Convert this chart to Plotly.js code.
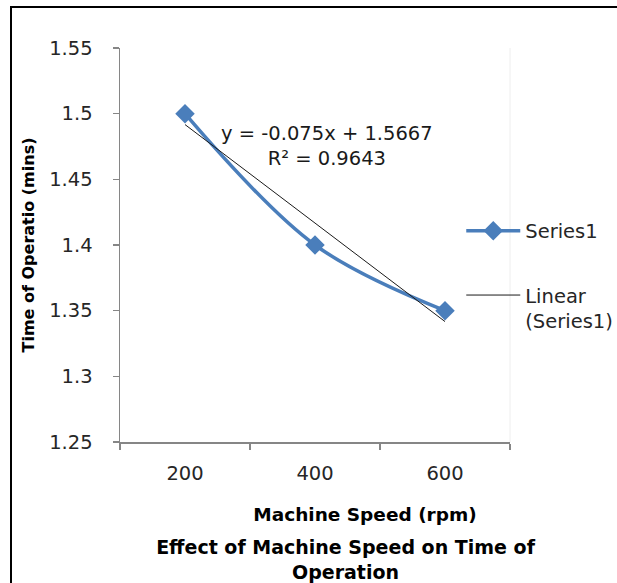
<!DOCTYPE html>
<html>
<head>
<meta charset="utf-8">
<script src="https://cdn.plot.ly/plotly-3.0.1.min.js"></script>
<style>
  html, body { margin: 0; padding: 0; background: #ffffff; overflow: hidden; }
  #frame { position: absolute; left: 10px; top: 6px; width: 800px; height: 800px;
           border-left: 2px solid #000; border-top: 2px solid #000; }
  #chart { position: absolute; left: 0; top: 0; width: 617px; height: 583px; }
</style>
</head>
<body>
<div id="frame"></div>
<div id="chart"></div>
<script>
// ---- data ----
var categories = ['200', '400', '600'];
var timeValues = [1.5, 1.4, 1.35];
var trendSlope = -0.075;
var trendIntercept = 1.5667;
var yTickValues = [1.25, 1.3, 1.35, 1.4, 1.45, 1.5, 1.55];
var yTickLabels = ['1.25', '1.3', '1.35', '1.4', '1.45', '1.5', '1.55'];

var trendValues = categories.map(function (c, i) { return trendSlope * (i + 1) + trendIntercept; });

var FONT = '"DejaVu Sans", "Open Sans", sans-serif';
var BLUE = '#4a7ebb';
var AXIS = '#868686';
var TXT = '#262626';

var series = {
  type: 'scatter', mode: 'lines+markers', name: 'Series1',
  x: categories, y: timeValues,
  line: { color: BLUE, width: 3.5, shape: 'spline', smoothing: 1 },
  marker: { symbol: 'diamond', size: 15, color: BLUE },
  legendgroup: 'a', cliponaxis: false
};
var trend = {
  type: 'scatter', mode: 'lines', name: 'Linear<br>(Series1)',
  x: categories, y: trendValues,
  line: { color: '#1a1a1a', width: 1 },
  legendgroup: 'b'
};

var pad = '';
for (var k = 0; k < 17; k++) pad += '&nbsp;';

var layout = {
  width: 617, height: 583,
  paper_bgcolor: 'rgba(0,0,0,0)', plot_bgcolor: 'rgba(0,0,0,0)',
  margin: { l: 120, r: 107, t: 48, b: 141, autoexpand: false },
  font: { family: FONT, color: TXT, size: 19.5 },
  showlegend: true,
  legend: {
    x: 0.875, xanchor: 'left', y: 0.585, yanchor: 'top',
    font: { family: FONT, size: 19.5, color: TXT },
    bgcolor: 'rgba(0,0,0,0)', traceorder: 'grouped', tracegroupgap: 36,
    itemwidth: 54, valign: 'top'
  },
  xaxis: {
    type: 'category', range: [-0.5, 2.5],
    showline: true, linecolor: AXIS, linewidth: 1.5,
    ticks: 'outside', tickson: 'boundaries', ticklen: 6, tickcolor: AXIS, tickwidth: 1.5,
    showgrid: false, zeroline: false,
    tickfont: { family: FONT, size: 19.5, color: TXT },
    ticklabelstandoff: 13,
    title: { text: pad + '<b>Machine Speed (rpm)</b>', font: { family: FONT, size: 18.5, color: '#000' }, standoff: 24 }
  },
  yaxis: {
    range: [1.25, 1.55], tickvals: yTickValues, ticktext: yTickLabels,
    showline: true, linecolor: AXIS, linewidth: 1.5,
    ticks: 'outside', ticklen: 6, tickcolor: AXIS, tickwidth: 1.5,
    showgrid: false, zeroline: false,
    tickfont: { family: FONT, size: 19.5, color: TXT },
    ticklabelstandoff: 16,
    title: { text: '<b>Time of Operatio (mins)</b>', font: { family: FONT, size: 16, color: '#000' }, standoff: 10 }
  },
  title: {
    text: '<b>Effect of Machine Speed on Time of<br>Operation</b>',
    font: { family: FONT, size: 19, color: '#000' },
    xref: 'container', yref: 'container', x: 0.56, xanchor: 'center',
    y: 0.05, yanchor: 'middle'
  },
  annotations: [{
    xref: 'paper', yref: 'paper', x: 0.531, y: 0.751, xanchor: 'center', yanchor: 'middle',
    text: 'y = -0.075x + 1.5667<br>R² = 0.9643', showarrow: false, align: 'center',
    font: { family: FONT, size: 19.5, color: '#1a1a1a' }
  }],
  shapes: [{
    type: 'line', xref: 'paper', yref: 'paper', x0: 1, x1: 1, y0: 0, y1: 1,
    line: { color: '#eeeeee', width: 1 }, layer: 'below'
  }]
};

Plotly.newPlot('chart', [series, trend], layout, { displayModeBar: false, staticPlot: true });
</script>
</body>
</html>
